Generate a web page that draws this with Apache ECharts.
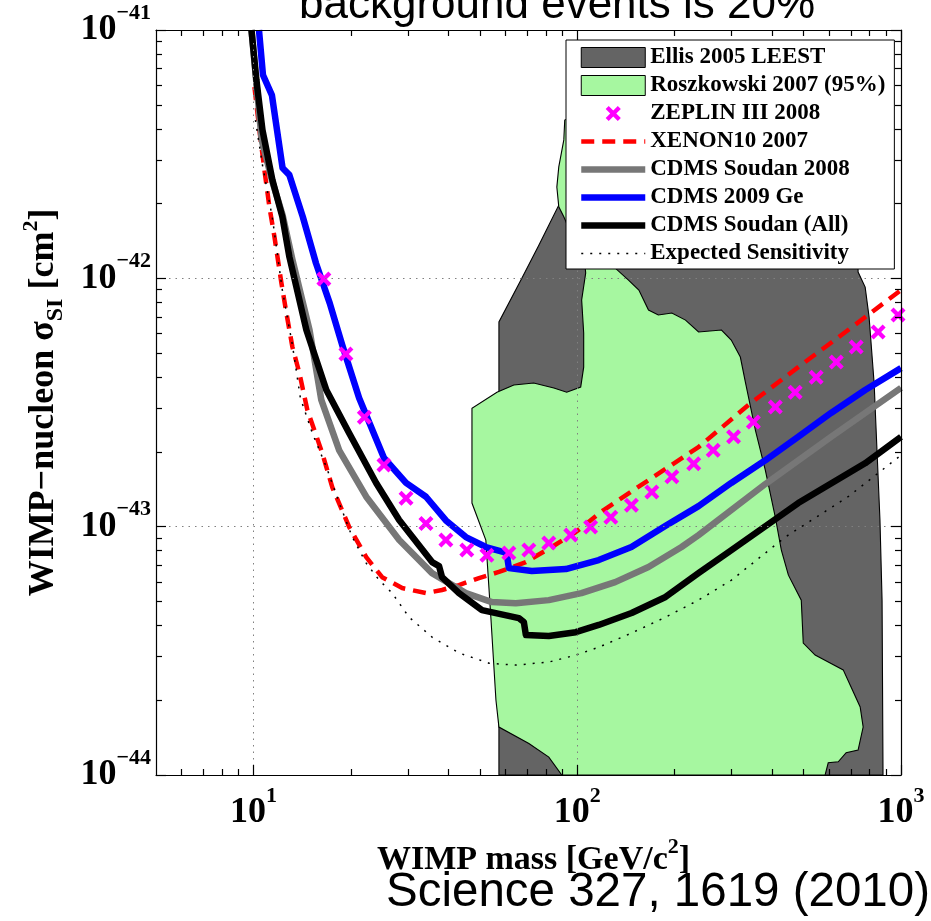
<!DOCTYPE html>
<html>
<head>
<meta charset="utf-8">
<script src="https://cdn.jsdelivr.net/npm/echarts@6.0.0/dist/echarts.min.js"></script>
<style>
  html, body { margin: 0; padding: 0; background: #fff; }
  #chart { width: 931px; height: 921px; }
</style>
</head>
<body>
<div id="chart"></div>
<script>
// WIMP-nucleon spin-independent cross-section limits vs WIMP mass.
// Every point is [mass in GeV/c^2, cross-section in cm^2].
// Mass goes on a log axis; the cross-section axis runs on log10(sigma),
// because the log scale rounds tick values near 1e-44 down to zero.

const xMajorTicks = [10, 100, 1000];
const xMinorTicks = [6, 7, 8, 9, 20, 30, 40, 50, 60, 70, 80, 90, 200, 300, 400, 500, 600, 700, 800, 900];
const yMajorTicks = [1e-44, 1e-43, 1e-42, 1e-41];
const yMinorTicks = [2e-44, 3e-44, 4e-44, 5e-44, 6e-44, 7e-44, 8e-44, 9e-44,
                     2e-43, 3e-43, 4e-43, 5e-43, 6e-43, 7e-43, 8e-43, 9e-43,
                     2e-42, 3e-42, 4e-42, 5e-42, 6e-42, 7e-42, 8e-42, 9e-42];

// Ellis 2005 LEEST allowed region (outline)
const ellisRegion = [
  [91.5, 3.29e-42], [87.7, 1.97e-42], [76.1, 1.36e-42], [67.0, 9.84e-43], [57.3, 6.67e-43],
  [57.3, 1e-44], [880, 1e-44], [874, 5.06e-44], [861, 1.063e-43], [843, 2.03e-43],
  [826, 3.79e-43], [797, 6.98e-43], [775, 9.22e-43], [737, 1.06e-42], [727, 3.29e-42],
  [482, 5.73e-42], [134, 6.29e-42]
];

// Roszkowski 2007 95% region (outline)
const roszkowskiRegion = [
  [91.5, 4.34e-42], [90.9, 3.61e-42], [87.7, 2.81e-42], [86.5, 2.33e-42], [87.7, 1.94e-42],
  [90.9, 1.77e-42], [97.5, 1.43e-42], [105.5, 1.16e-42], [106.2, 1.05e-42], [103.2, 8.18e-43],
  [104.7, 6.02e-43], [104.7, 4.39e-43], [102.5, 3.65e-43], [92.8, 3.48e-43], [84.7, 3.62e-43],
  [73.4, 3.79e-43], [63.7, 3.72e-43], [56.5, 3.48e-43], [47.3, 3.00e-43], [47.3, 1.245e-43],
  [52.2, 8.83e-44], [54.1, 4.32e-44], [56.1, 2.00e-44], [57.3, 1.56e-44], [70.9, 1.34e-44],
  [81.7, 1.18e-44], [89.6, 1e-44], [583, 1e-44], [596, 1.12e-44], [640, 1.13e-44],
  [677, 1.23e-44], [737, 1.26e-44], [764, 1.56e-44], [748, 1.88e-44], [701, 2.26e-44],
  [663, 2.65e-44], [596, 2.85e-44], [543, 3.04e-44], [499, 3.40e-44], [492, 5.06e-44],
  [449, 6.38e-44], [427, 8.05e-44], [409, 1.093e-43], [381, 1.69e-43], [355, 2.45e-43],
  [331, 3.79e-43], [319, 4.82e-43], [299, 5.64e-43], [279, 6.19e-43], [237, 6.08e-43],
  [216, 6.79e-43], [196, 7.25e-43], [178, 7.12e-43], [166, 7.45e-43], [155, 8.97e-43],
  [144, 9.84e-43], [131, 1.10e-42], [125, 2.49e-42], [108.5, 4.76e-42]
];

// ZEPLIN III 2008
const zeplinMass = [16.5, 19.3, 22.0, 25.3, 29.6, 34.1, 39.3, 45.6, 52.6, 61.5, 70.9, 81.7, 95.5, 110,
                    127, 147, 170, 196, 229, 263, 304, 350, 409, 471, 547, 631, 727, 850, 979];
const zeplinSigma = [9.94e-43, 4.96e-43, 2.76e-43, 1.77e-43, 1.30e-43, 1.03e-43, 8.83e-44, 8.05e-44,
                     7.68e-44, 7.83e-44, 8.05e-44, 8.59e-44, 9.25e-44, 9.96e-44, 1.09e-43, 1.22e-43,
                     1.38e-43, 1.59e-43, 1.79e-43, 2.03e-43, 2.30e-43, 2.64e-43, 3.03e-43, 3.48e-43,
                     4.00e-43, 4.60e-43, 5.29e-43, 6.08e-43, 7.12e-43];

// XENON10 2007
const xenon10 = [
  [10.07, 5.89e-42], [10.43, 3.96e-42], [10.81, 2.73e-42], [11.20, 1.94e-42], [11.61, 1.47e-42],
  [12.20, 9.57e-43], [12.64, 7.25e-43], [13.19, 5.29e-43], [13.86, 4.16e-43], [14.67, 2.95e-43],
  [16.31, 1.98e-43], [17.52, 1.44e-43], [19.76, 9.96e-44], [22.30, 7.54e-44], [24.97, 6.26e-44],
  [28.79, 5.66e-44], [34.13, 5.40e-44], [38.23, 5.56e-44], [43.13, 5.82e-44], [49.72, 6.21e-44],
  [57.30, 6.57e-44], [69.40, 7.20e-44], [83.46, 8.28e-44], [98.95, 9.51e-44], [120.7, 1.167e-43],
  [166.1, 1.54e-43], [236.8, 2.09e-43], [337.8, 3.09e-43], [481.5, 4.39e-43], [686.6, 6.19e-43],
  [1000, 8.97e-43]
];

// CDMS Soudan 2008
const cdmsSoudan2008 = [
  [9.86, 1e-41], [10.6, 3.61e-42], [11.4, 2.49e-42], [12.3, 1.80e-42], [13.2, 1.185e-42],
  [14.9, 6.19e-43], [16.2, 3.24e-43], [18.4, 2.03e-43], [22.3, 1.32e-43], [28.2, 8.83e-44],
  [35.6, 6.50e-44], [45.3, 5.40e-44], [54.5, 4.97e-44], [64.6, 4.92e-44], [81.7, 5.06e-44],
  [103, 5.40e-44], [131, 5.98e-44], [166, 6.88e-44], [210, 8.28e-44], [237, 9.25e-44],
  [381, 1.485e-43], [608, 2.30e-43], [1000, 3.62e-43]
];

// CDMS 2009 Ge
const cdms2009Ge = [
  [10.4, 1.0e-41], [10.7, 6.59e-42], [11.4, 5.47e-42], [12.3, 2.78e-42], [12.9, 2.61e-42],
  [14.2, 1.77e-42], [15.6, 1.15e-42], [17.2, 7.95e-43], [18.8, 5.39e-43], [21.2, 3.30e-43],
  [25.3, 1.89e-43], [29.6, 1.50e-43], [34.1, 1.32e-43], [39.3, 1.06e-43], [45.3, 9.08e-44],
  [52.2, 8.28e-44], [59.4, 7.90e-44], [60.6, 7.76e-44], [61.5, 6.81e-44], [72.4, 6.63e-44],
  [92.2, 6.75e-44], [116.5, 7.34e-44], [147, 8.28e-44], [187, 1.006e-43], [237, 1.21e-43],
  [299, 1.50e-43], [381, 1.85e-43], [481, 2.30e-43], [608, 2.87e-43], [775, 3.55e-43],
  [1000, 4.35e-43]
];

// CDMS Soudan (All)
const cdmsSoudanAll = [
  [9.86, 1e-41], [10.21, 6.29e-42], [10.66, 3.96e-42], [11.44, 2.49e-42], [12.28, 1.77e-42],
  [12.91, 1.22e-42], [14.57, 6.19e-43], [16.79, 3.55e-43], [19.76, 2.38e-43], [23.93, 1.50e-43],
  [28.18, 1.063e-43], [35.62, 7.20e-44], [37.43, 6.94e-44], [38.23, 6.26e-44], [43.13, 5.40e-44],
  [50.79, 4.61e-44], [66.02, 4.28e-44], [68.41, 4.13e-44], [69.40, 3.66e-44], [81.70, 3.63e-44],
  [98.95, 3.76e-44], [116.5, 4.02e-44], [147.2, 4.49e-44], [187.4, 5.21e-44], [236.8, 6.50e-44],
  [299.4, 8.05e-44], [481.5, 1.245e-43], [774.6, 1.80e-43], [1000, 2.30e-43]
];

// Expected sensitivity
const expectedSensitivity = [
  [10.14, 4.34e-42], [10.66, 2.86e-42], [11.44, 1.75e-42], [12.28, 8.97e-43], [13.19, 5.39e-43],
  [13.96, 3.30e-43], [15.20, 2.38e-43], [16.79, 1.74e-43], [18.41, 1.245e-43], [20.19, 9.08e-44],
  [22.30, 7.13e-44], [24.45, 6.09e-44], [26.82, 5.40e-44], [30.25, 4.32e-44], [35.62, 3.59e-44],
  [43.13, 3.10e-44], [53.37, 2.82e-44], [64.64, 2.77e-44], [81.70, 2.85e-44], [98.95, 3.04e-44],
  [116.5, 3.27e-44], [147.2, 3.73e-44], [187.4, 4.32e-44], [236.8, 5.06e-44], [299.4, 6.09e-44],
  [439, 9.08e-44], [686.6, 1.32e-43], [1000, 1.94e-43]
];

const X_MIN = 5, X_MAX = 1000, Y_MIN = 1e-44, Y_MAX = 1e-41;
const ELLIS_FILL = '#646464';
const ROSZ_FILL = '#a6f7a0';
const SERIF = 'Liberation Serif';
const SANS = 'Liberation Sans';

// [mass, sigma] -> [mass, log10(sigma)] for the cross-section axis
function toPlot(pts) { return pts.map(function (p) { return [p[0], Math.log10(p[1])]; }); }
const lg = Math.log10;

// thick "x" marker (10 x 10 box)
const CROSS = 'M2,0L5,3L8,0L10,2L7,5L10,8L8,10L5,7L2,10L0,8L3,5L0,2Z';
// same marker with a little empty margin so it sits smaller in the legend
const CROSS_LEGEND = 'path://M-1.6,-1.6' + CROSS + 'M11.6,11.6';

function polygonSeries(name, pts, fill) {
  const data = toPlot(pts);
  return {
    name: name,
    type: 'custom',
    z: 1,
    silent: true,
    clip: true,
    data: data,
    itemStyle: { color: fill, borderColor: '#000', borderWidth: 1 },
    renderItem: function (params, api) {
      if (params.dataIndex !== 0) return null;
      const points = data.map(function (p) { return api.coord(p); });
      return {
        type: 'polygon',
        shape: { points: points },
        style: { fill: fill, stroke: '#000', lineWidth: 1.1 }
      };
    }
  };
}

function lineSeries(name, pts, color, width, type) {
  return {
    name: name,
    type: 'line',
    z: 2,
    data: toPlot(pts),
    symbol: 'none',
    silent: true,
    clip: true,
    lineStyle: { color: color, width: width, type: type || 'solid', cap: 'butt', join: 'round' },
    itemStyle: { color: color }
  };
}

const tickRich = {
  b: { fontFamily: SERIF, fontWeight: 'bold', fontSize: 36, lineHeight: 56, verticalAlign: 'middle', color: '#000' },
  e: { fontFamily: SERIF, fontWeight: 'bold', fontSize: 22, verticalAlign: 'top', color: '#000' }
};
const nameRich = {
  sub: { fontFamily: SERIF, fontWeight: 'bold', fontSize: 24, verticalAlign: 'bottom', color: '#000' },
  sup: { fontFamily: SERIF, fontWeight: 'bold', fontSize: 22, verticalAlign: 'top', color: '#000' }
};
function nameStyle(size, pad) {
  return {
    fontFamily: SERIF, fontWeight: 'bold', fontSize: size, lineHeight: 48, color: '#000',
    padding: pad, rich: nameRich
  };
}

const frameLine = { show: true, onZero: false, lineStyle: { color: '#000', width: 1.2 } };
const tickLine = { color: '#000', width: 1.2 };
const gridDots = { show: true, lineStyle: { color: '#808080', width: 1, type: [1.5, 5] } };

function expOf(v) { return Math.round(Math.log10(v)); }

// axes share the same ranges: mass on a log scale, cross-section on log10 values
function massRange(ax) { ax.type = 'log'; ax.logBase = 10; ax.min = X_MIN; ax.max = X_MAX; return ax; }
function sigmaRange(ax) { ax.type = 'value'; ax.min = lg(Y_MIN); ax.max = lg(Y_MAX); return ax; }

// plain frame edge carrying ticks only
function frameEdge(range, position, ticks, len, showLine) {
  return range({
    position: position, z: 3,
    axisLine: showLine ? frameLine : { show: false },
    axisTick: { show: true, inside: true, length: len, customValues: ticks, lineStyle: tickLine },
    axisLabel: { show: false },
    splitLine: { show: false },
    axisPointer: { show: false }
  });
}

const option = {
  animation: false,
  backgroundColor: '#fff',
  title: [
    {
      text: 'background events is 20%',
      left: 299, top: -16, padding: 0,
      textStyle: { fontFamily: SANS, fontWeight: 'normal', fontSize: 44, color: '#000' }
    },
    {
      text: 'Science 327, 1619 (2010)',
      right: 1, top: 869, padding: 0,
      textStyle: { fontFamily: SANS, fontWeight: 'normal', fontSize: 47.5, color: '#000' }
    }
  ],
  grid: { left: 156, right: 30, top: 30, bottom: 146, containLabel: false },
  legend: {
    orient: 'vertical',
    left: 566, top: 40, z: 10,
    backgroundColor: '#fff', borderColor: '#000', borderWidth: 1, borderRadius: 0,
    padding: [6, 9, 4, 12],
    itemWidth: 64, itemHeight: 20, itemGap: 5,
    selectedMode: false,
    textStyle: { fontFamily: SERIF, fontWeight: 'bold', fontSize: 23, lineHeight: 22, color: '#000' },
    data: [
      { name: 'Ellis 2005 LEEST', icon: 'rect', itemStyle: { color: ELLIS_FILL, borderColor: '#000', borderWidth: 1 } },
      { name: 'Roszkowski 2007 (95%)', icon: 'rect', itemStyle: { color: ROSZ_FILL, borderColor: '#000', borderWidth: 1 } },
      { name: 'ZEPLIN III 2008', icon: CROSS_LEGEND, itemStyle: { color: '#ff00ff' } },
      { name: 'XENON10 2007', itemStyle: { opacity: 0 }, lineStyle: { width: 4.5, type: [13, 8], color: '#ff0000' } },
      { name: 'CDMS Soudan 2008', itemStyle: { opacity: 0 }, lineStyle: { width: 6.5, type: 'solid', color: '#777777' } },
      { name: 'CDMS 2009 Ge', itemStyle: { opacity: 0 }, lineStyle: { width: 6.5, type: 'solid', color: '#0000ff' } },
      { name: 'CDMS Soudan (All)', itemStyle: { opacity: 0 }, lineStyle: { width: 6.5, type: 'solid', color: '#000000' } },
      { name: 'Expected Sensitivity', itemStyle: { opacity: 0 }, lineStyle: { width: 1.5, type: [2, 7], color: '#000000' } }
    ]
  },
  xAxis: [
    massRange({
      position: 'bottom', z: 3,
      axisLine: frameLine,
      axisTick: { show: true, inside: true, length: 10, customValues: xMajorTicks, lineStyle: tickLine },
      axisLabel: {
        show: true, margin: 10, customValues: xMajorTicks,
        formatter: function (v) { return '{b|10}{e|' + expOf(v) + '}'; },
        rich: tickRich
      },
      splitLine: gridDots,
      axisPointer: { show: false },
      name: 'WIMP mass [GeV/c{sup|2}]',
      nameLocation: 'middle', nameGap: 54,
      nameTextStyle: nameStyle(34, [0, 0, 0, 10])
    }),
    frameEdge(massRange, 'top', xMajorTicks, 10, true),
    frameEdge(massRange, 'bottom', xMinorTicks, 6, false),
    frameEdge(massRange, 'top', xMinorTicks, 6, false)
  ],
  yAxis: [
    sigmaRange({
      position: 'left', z: 3, interval: 1,
      axisLine: frameLine,
      axisTick: { show: true, inside: true, length: 10, customValues: yMajorTicks.map(lg), lineStyle: tickLine },
      axisLabel: {
        show: true, margin: 5, customValues: yMajorTicks.map(lg),
        formatter: function (v) { return '{b|10}{e|\u2212' + Math.round(-v) + '}'; },
        rich: tickRich
      },
      splitLine: gridDots,
      axisPointer: { show: false },
      name: 'WIMP\u2212nucleon \u03c3{sub|SI} [cm{sup|2}]',
      nameLocation: 'middle', nameGap: 88,
      nameTextStyle: nameStyle(36, 0)
    }),
    frameEdge(sigmaRange, 'right', yMajorTicks.map(lg), 10, true),
    frameEdge(sigmaRange, 'left', yMinorTicks.map(lg), 6, false),
    frameEdge(sigmaRange, 'right', yMinorTicks.map(lg), 6, false)
  ],
  series: [
    polygonSeries('Ellis 2005 LEEST', ellisRegion, ELLIS_FILL),
    polygonSeries('Roszkowski 2007 (95%)', roszkowskiRegion, ROSZ_FILL),
    {
      name: 'ZEPLIN III 2008',
      type: 'scatter',
      z: 2,
      silent: true,
      symbol: 'path://' + CROSS,
      symbolSize: 15,
      itemStyle: { color: '#ff00ff', opacity: 1 },
      data: zeplinMass.map(function (m, i) { return [m, lg(zeplinSigma[i])]; })
    },
    lineSeries('XENON10 2007', xenon10, '#ff0000', 4.5, [13, 8]),
    lineSeries('CDMS Soudan 2008', cdmsSoudan2008, '#777777', 6.5),
    lineSeries('CDMS 2009 Ge', cdms2009Ge, '#0000ff', 6.5),
    lineSeries('CDMS Soudan (All)', cdmsSoudanAll, '#000000', 6.5),
    lineSeries('Expected Sensitivity', expectedSensitivity, '#000000', 1.5, [2, 7])
  ]
};

const chart = echarts.init(document.getElementById('chart'), null, { renderer: 'canvas' });
chart.setOption(option);
</script>
</body>
</html>
